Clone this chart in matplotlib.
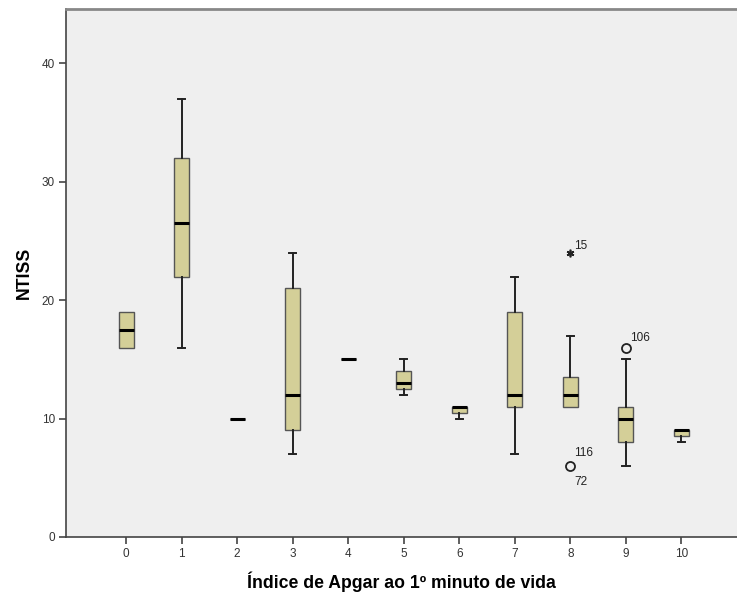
import matplotlib
matplotlib.use('Agg')
import matplotlib.pyplot as plt

plt.rcParams['font.family'] = ['Liberation Sans', 'DejaVu Sans']

# Apgar score groups and box statistics
apgar = [0, 1, 2, 3, 4, 5, 6, 7, 8, 9, 10]
whislo = [16, 16, 10, 7, 15, 12, 10, 7, 11, 6, 8]
q1 = [16, 22, 10, 9, 15, 12.5, 10.5, 11, 11, 8, 8.5]
med = [17.5, 26.5, 10, 12, 15, 13, 11, 12, 12, 10, 9]
q3 = [19, 32, 10, 21, 15, 14, 11, 19, 13.5, 11, 9]
whishi = [19, 37, 10, 24, 15, 15, 11, 22, 17, 15, 9]

# outliers: (group, value, labels)
circles = [(8, 6, ['116', '72']), (9, 16, ['106'])]
stars = [(8, 24, ['15'])]

stats = []
for i in range(len(apgar)):
    stats.append({'whislo': whislo[i], 'q1': q1[i], 'med': med[i],
                  'q3': q3[i], 'whishi': whishi[i], 'fliers': []})

fig = plt.figure(figsize=(7.37, 5.95), dpi=100)
ax = fig.add_axes([0.0896, 0.0975, 0.9104, 0.8875])
ax.set_facecolor('#efefef')

bp = ax.bxp(stats, positions=apgar, widths=0.27, patch_artist=True,
            showfliers=False,
            boxprops=dict(facecolor='#d4cf98', edgecolor='#555555', linewidth=1),
            medianprops=dict(color='black', linewidth=2.2),
            whiskerprops=dict(color='#222222', linewidth=1.4),
            capprops=dict(color='#222222', linewidth=1.4),
            capwidths=0.13)
# no caps where the whisker ends on the box itself
for i in range(len(apgar)):
    if whislo[i] == q1[i]:
        bp['caps'][2 * i].set_visible(False)
    if whishi[i] == q3[i]:
        bp['caps'][2 * i + 1].set_visible(False)
for c in bp['caps']:
    c.set_zorder(1.5)

for g, v, labs in circles:
    ax.plot(g, v, 'o', mfc='none', mec='#222222', ms=6.5, mew=1.3)
    if len(labs) == 2:
        ax.annotate(labs[0], (g, v), xytext=(3, 7), textcoords='offset points', fontsize=8.5, color='#222222')
        ax.annotate(labs[1], (g, v), xytext=(3, -14), textcoords='offset points', fontsize=8.5, color='#222222')
    else:
        ax.annotate(labs[0], (g, v), xytext=(3, 5), textcoords='offset points', fontsize=8.5, color='#222222')
for g, v, labs in stars:
    ax.plot(g, v, marker=(6, 2, 0), color='#222222', ms=5.5, mew=1.2)
    ax.annotate(labs[0], (g, v), xytext=(3, 3), textcoords='offset points', fontsize=8.5, color='#222222')

ax.set_xlim(-1.08, 11.0)
ax.set_ylim(0, 44.6)
ax.set_xticks(apgar)
ax.set_xticklabels([str(a) for a in apgar])
ax.set_yticks([0, 10, 20, 30, 40])

for s in ['left', 'bottom']:
    ax.spines[s].set_color('#444444')
    ax.spines[s].set_linewidth(1.2)
ax.spines['top'].set_color('#888888')
ax.spines['top'].set_linewidth(2)
ax.spines['right'].set_visible(False)
ax.tick_params(direction='out', length=5, width=1.2, color='#444444',
               labelsize=8.5, labelcolor='#333333', pad=3)

ax.set_xlabel('Índice de Apgar ao 1º minuto de vida', fontsize=12.7, fontweight='bold', labelpad=8)
ax.set_ylabel('NTISS', fontsize=12.7, fontweight='bold', labelpad=6)

fig.savefig('out.png', dpi=100)
